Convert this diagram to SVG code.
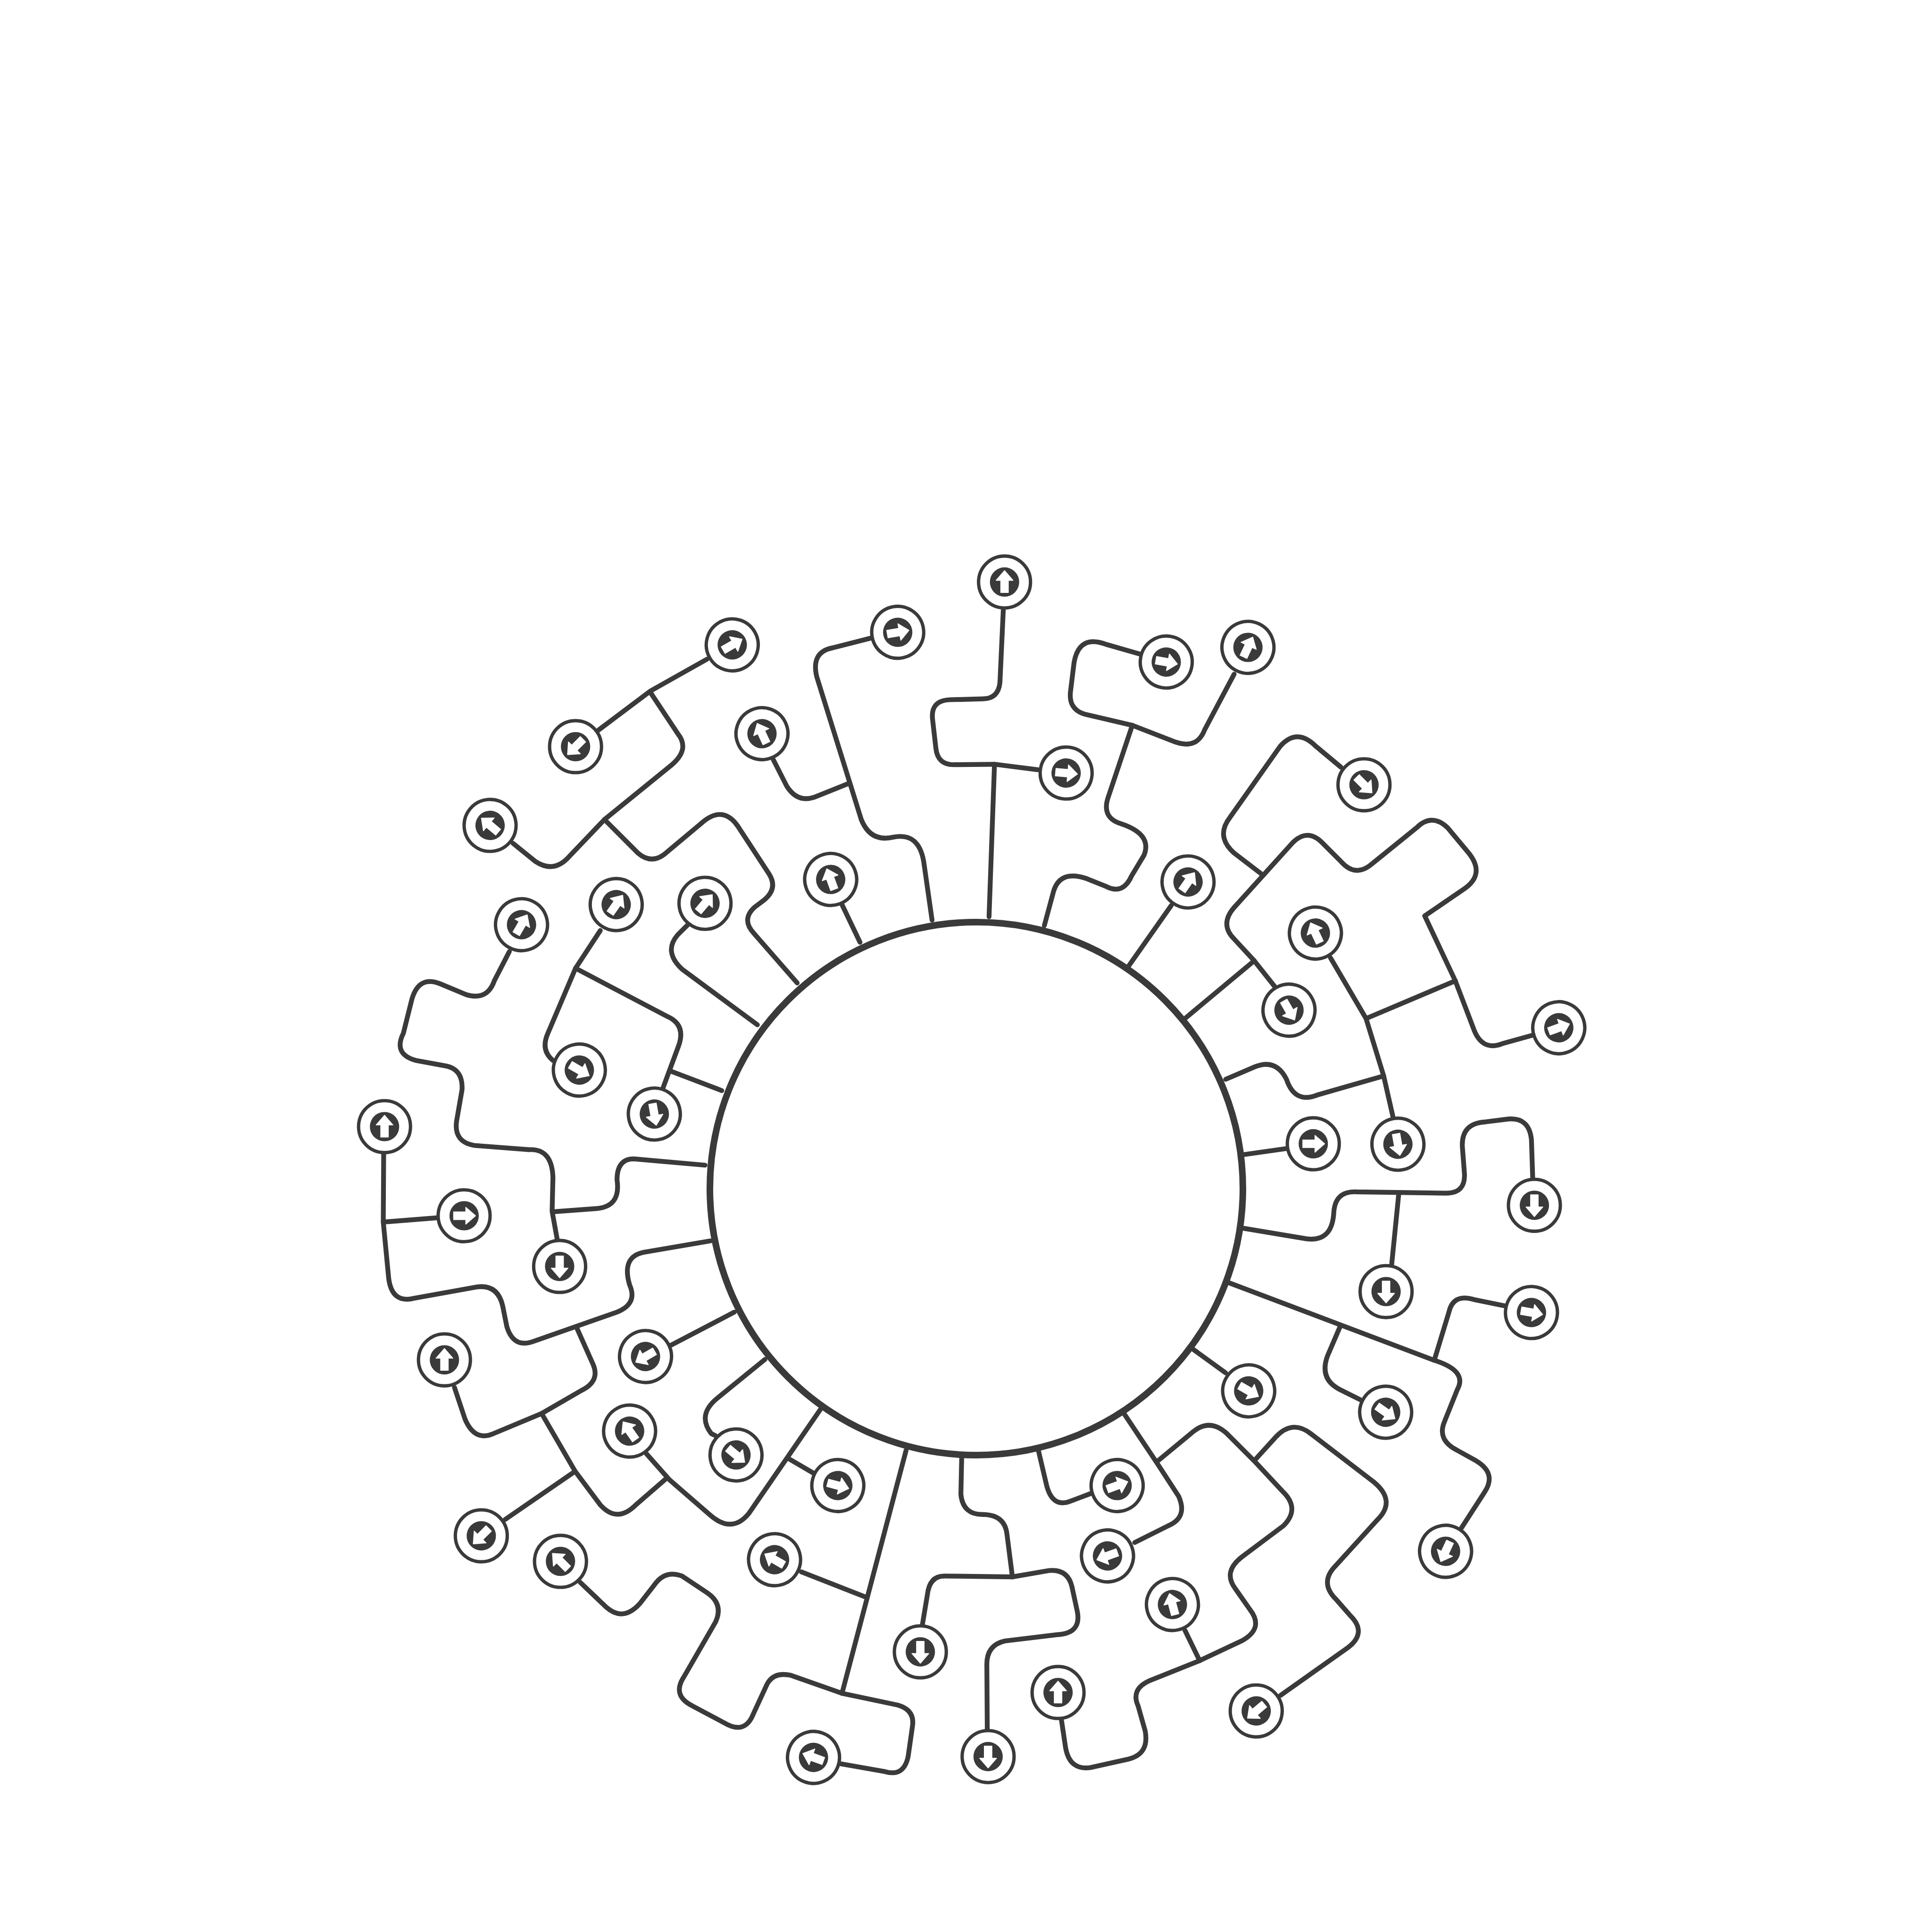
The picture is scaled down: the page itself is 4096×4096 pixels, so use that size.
<svg xmlns="http://www.w3.org/2000/svg" width="4096" height="4096" viewBox="0 0 4096 4096">
<style>
.w{fill:none;stroke:#3a3a3a;stroke-width:11.5;stroke-linecap:round;stroke-linejoin:round}
.r{fill:#fff;stroke:#3a3a3a;stroke-width:8}
.d{fill:#3a3a3a}
.a{fill:#fff;stroke:#fff;stroke-width:2;stroke-linejoin:round}
</style>
<defs>
<g id="pin"><circle class="r" r="62"/><circle class="d" r="35"/><polygon class="a" points="0,-27 20,-4 9,-4 9,25 -9,25 -9,-4 -20,-4"/></g>
</defs>
<rect width="4096" height="4096" fill="#fff"/>
<g id="connectors">
<g id="c-tl" class="w" transform="translate(655.36,1146.88) scale(.88816)">
<path d="M1165 1055L1062 937Q1030 903 1065 873L1085 858Q1120 830 1098 795L1028 688Q990 625 935 675L855 742Q820 775 785 745L705 665"/>
<path d="M705 665L622 752Q585 795 540 765L487 722"/>
<path d="M705 665L865 535Q910 497 880 460L815 362"/>
<path d="M950 282L815 358L690 452"/>
<path d="M1070 1155L890 1022Q845 980 880 940L905 915"/>
<path d="M1315 958L1272 868"/>
<path d="M1487 905L1467 765Q1455 695 1395 707Q1340 720 1318 665L1212 325Q1197 265 1250 255L1340 232"/>
<path d="M1290 578L1205 612Q1165 625 1140 585L1108 522"/>
<path d="M985 1312L862 1265"/>
<path d="M845 1305L882 1205Q900 1155 855 1135L636 1020"/>
<path d="M695 930L636 1020L570 1175Q552 1215 582 1240"/>
<path d="M592 1666L580 1600L582 1520Q580 1450 525 1453L395 1443Q345 1435 352 1385L365 1310Q368 1258 320 1252L255 1240Q200 1225 225 1175L245 1095Q262 1035 315 1058L375 1083Q425 1098 442 1050L478 980"/>
<path d="M945 1490L775 1475Q735 1475 735 1525Q745 1592 680 1594L585 1601"/>
</g>
<g id="c-bl" class="w" transform="translate(655.36,2457.6) scale(.88816)">
<path d="M178 -15L177 150L190 285Q198 345 250 332L400 305Q450 298 462 350L472 400Q488 452 535 435L735 365Q785 345 765 300Q745 232 800 222L958 195"/>
<path d="M177 150L305 140"/>
<path d="M640 405L678 490Q695 530 650 552L555 607"/>
<path d="M555 607L440 655Q395 675 372 620L347 545"/>
<path d="M555 607L635 745L695 825Q735 870 780 825L855 760"/>
<path d="M635 745L468 860"/>
<path d="M805 703L860 765L958 850Q1010 895 1050 845L1220 598"/>
<path d="M1145 715L1205 750"/>
<path d="M1015 365L862 445"/>
<path d="M1088 478L975 570Q925 610 960 655L970 660"/>
<path d="M1425 695L1272 1275"/>
<path d="M1328 1045L1175 985"/>
<path d="M1272 1275L1405 1303Q1447 1315 1440 1355L1430 1425Q1420 1475 1375 1462L1268 1443"/>
<path d="M1272 1275L1150 1232Q1105 1222 1090 1260L1060 1325Q1040 1375 990 1345L915 1305Q865 1280 895 1235L970 1105Q990 1062 950 1035L890 995Q850 980 825 1015L790 1060Q750 1105 710 1070L647 1010"/>
</g>
<g id="c-br" class="w" transform="translate(1966.08,2457.6) scale(.88816)">
<path d="M82 710L80 800Q85 850 135 848Q185 850 190 895L203 997"/>
<path d="M203 997L40 995Q5 995 0 1040L-12 1112"/>
<path d="M203 997L290 982Q335 978 345 1020L358 1080Q368 1132 310 1135L185 1150Q140 1160 142 1210L143 1362"/>
<path d="M265 695L285 780Q300 835 345 815L390 798"/>
<path d="M470 608L548 725L600 805Q622 855 575 875L495 915"/>
<path d="M548 722L635 650Q675 618 715 655L780 720L850 795Q890 835 850 875L750 950Q705 985 735 1025L770 1075Q805 1120 750 1150L650 1197L530 1245Q485 1265 503 1305L520 1365Q530 1420 480 1432L390 1452Q340 1460 330 1405L320 1338"/>
<path d="M615 1125L650 1197"/>
<path d="M780 720L830 665Q870 620 915 655L1065 770Q1120 815 1075 860L975 970Q935 1010 975 1050L1010 1090Q1050 1130 1005 1165L843 1280"/>
<path d="M632 452L712 510"/>
<path d="M720 295L1210 480Q1290 505 1265 550L1235 625Q1215 670 1265 695L1310 720Q1360 750 1330 795L1275 880"/>
<path d="M985 400L955 470Q935 525 985 550L1035 575"/>
<path d="M1210 480L1245 365Q1255 320 1305 335L1378 350"/>
<path d="M1445 45L1442 -46Q1437 -100 1387 -96L1332 -89Q1275 -86 1277 -31L1282 34Q1285 82 1237 81L1025 78Q972 75 970 130Q965 198 905 190L755 165"/>
<path d="M1125 85L1108 255"/>
</g>
<g id="c-tr" class="w" transform="translate(2048,1146.88) scale(.88816)">
<path d="M662 1465L767 1450"/>
<path d="M620 1285L690 1255Q740 1235 765 1285Q785 1345 840 1322L997 1277"/>
<path d="M870 995L955 1140L997 1277L1020 1378"/>
<path d="M955 1140L1168 1050"/>
<path d="M1168 1050L1095 895L1190 830Q1240 795 1200 745L1150 685Q1112 648 1075 685L970 770Q930 805 895 765L850 720Q815 685 780 720L640 875Q605 915 640 950L688 1002"/>
<path d="M688 1002L738 1065"/>
<path d="M688 1002L525 1138"/>
<path d="M708 797L640 745Q595 705 630 660L750 490Q790 445 835 490L895 540"/>
<path d="M1168 1050L1210 1160Q1230 1220 1280 1200L1352 1180"/>
<path d="M388 1015L490 870"/>
<path d="M89 165L81 338Q77 377 40 377L-39 379Q-84 381 -80 424L-72 494Q-68 536 -26 534L68 533L171 546"/>
<path d="M68 533L55 897"/>
<path d="M415 270L335 247Q270 222 258 290L250 355Q242 405 290 415L397 440L500 480Q552 498 570 450L640 318"/>
<path d="M397 440L340 610Q322 660 370 675Q445 700 425 750L395 800Q375 845 335 825L285 805Q222 785 208 840L187 918"/>
</g>
</g>
<g id="hub"><circle cx="2070" cy="2520" r="565" fill="#fff" stroke="#3a3a3a" stroke-width="14"/></g>
<g id="nodes-tl" transform="translate(655.36,1146.88) scale(.88816)">
<g id="n1" transform="translate(1010,248) rotate(60)"><use href="#pin"/></g>
<g id="n2" transform="translate(636,491) rotate(225)"><use href="#pin"/></g>
<g id="n3" transform="translate(432,679) rotate(310)"><use href="#pin"/></g>
<g id="n4" transform="translate(1405,218) rotate(80)"><use href="#pin"/></g>
<g id="n5" transform="translate(1081,460) rotate(335)"><use href="#pin"/></g>
<g id="n6" transform="translate(1245,808) rotate(340)"><use href="#pin"/></g>
<g id="n7" transform="translate(733,868) rotate(35)"><use href="#pin"/></g>
<g id="n8" transform="translate(945,865) rotate(40)"><use href="#pin"/></g>
<g id="n9" transform="translate(507,916) rotate(30)"><use href="#pin"/></g>
<g id="n10" transform="translate(645,1263) rotate(120)"><use href="#pin"/></g>
<g id="n11" transform="translate(824,1368) rotate(170)"><use href="#pin"/></g>
<g id="n12" transform="translate(180,1398)"><use href="#pin"/></g>
</g>
<g id="nodes-bl" transform="translate(655.36,2457.6) scale(.88816)">
<g id="n13" transform="translate(370,135) rotate(90)"><use href="#pin"/></g>
<g id="n14" transform="translate(598,256) rotate(180)"><use href="#pin"/></g>
<g id="n15" transform="translate(323,479)"><use href="#pin"/></g>
<g id="n16" transform="translate(803,471) rotate(240)"><use href="#pin"/></g>
<g id="n17" transform="translate(765,649) rotate(325)"><use href="#pin"/></g>
<g id="n18" transform="translate(1019,706) rotate(130)"><use href="#pin"/></g>
<g id="n19" transform="translate(1262,779) rotate(105)"><use href="#pin"/></g>
<g id="n20" transform="translate(411,899) rotate(225)"><use href="#pin"/></g>
<g id="n21" transform="translate(600,960) rotate(315)"><use href="#pin"/></g>
<g id="n22" transform="translate(1111,956) rotate(300)"><use href="#pin"/></g>
<g id="n23" transform="translate(1459,1176) rotate(180)"><use href="#pin"/></g>
<g id="n24" transform="translate(1204,1428) rotate(290)"><use href="#pin"/></g>
</g>
<g id="nodes-tr" transform="translate(2048,1146.88) scale(.88816)">
<g id="n25" transform="translate(92,98)"><use href="#pin"/></g>
<g id="n26" transform="translate(239,554) rotate(95)"><use href="#pin"/></g>
<g id="n27" transform="translate(478,289) rotate(100)"><use href="#pin"/></g>
<g id="n28" transform="translate(673,254) rotate(25)"><use href="#pin"/></g>
<g id="n29" transform="translate(530,814) rotate(35)"><use href="#pin"/></g>
<g id="n30" transform="translate(950,582) rotate(135)"><use href="#pin"/></g>
<g id="n31" transform="translate(834,936) rotate(335)"><use href="#pin"/></g>
<g id="n32" transform="translate(771,1120) rotate(150)"><use href="#pin"/></g>
<g id="n33" transform="translate(1415,1162) rotate(70)"><use href="#pin"/></g>
<g id="n34" transform="translate(829,1439) rotate(90)"><use href="#pin"/></g>
<g id="n35" transform="translate(1031,1440) rotate(170)"><use href="#pin"/></g>
</g>
<g id="nodes-br" transform="translate(1966.08,2457.6) scale(.88816)">
<g id="n36" transform="translate(1449,110) rotate(180)"><use href="#pin"/></g>
<g id="n37" transform="translate(1095,316) rotate(180)"><use href="#pin"/></g>
<g id="n38" transform="translate(1442,366) rotate(100)"><use href="#pin"/></g>
<g id="n39" transform="translate(767,553) rotate(120)"><use href="#pin"/></g>
<g id="n40" transform="translate(1094,604) rotate(125)"><use href="#pin"/></g>
<g id="n41" transform="translate(453,779) rotate(70)"><use href="#pin"/></g>
<g id="n42" transform="translate(430,947) rotate(250)"><use href="#pin"/></g>
<g id="n43" transform="translate(585,1063) rotate(345)"><use href="#pin"/></g>
<g id="n44" transform="translate(1237,936) rotate(205)"><use href="#pin"/></g>
<g id="n45" transform="translate(312,1273)"><use href="#pin"/></g>
<g id="n46" transform="translate(785,1317) rotate(230)"><use href="#pin"/></g>
<g id="n47" transform="translate(145,1426) rotate(180)"><use href="#pin"/></g>
</g>
</svg>
